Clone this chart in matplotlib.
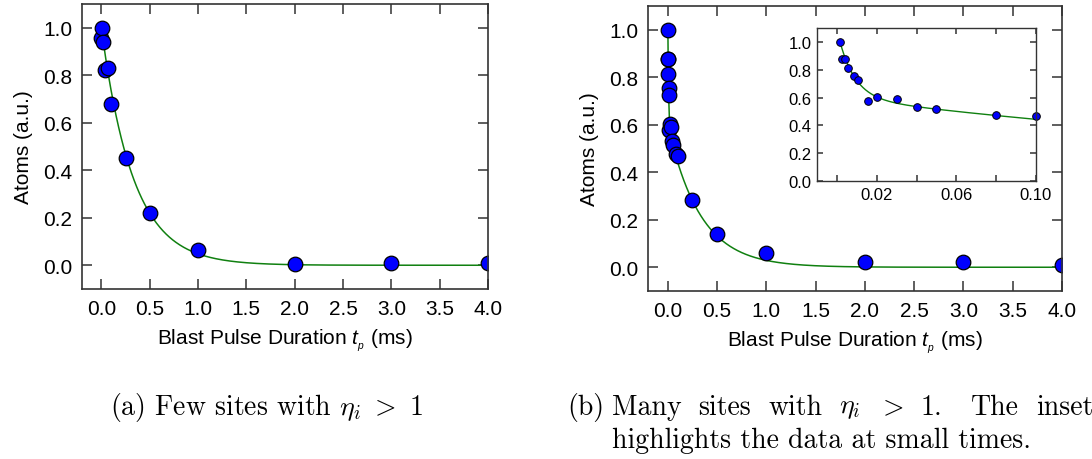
import numpy as np
import matplotlib
matplotlib.use("Agg")
import matplotlib.pyplot as plt

plt.rcParams['font.family'] = ['Liberation Sans', 'DejaVu Sans']
plt.rcParams['mathtext.fontset'] = 'custom'
plt.rcParams['mathtext.rm'] = 'Liberation Sans'
plt.rcParams['mathtext.it'] = 'Liberation Sans:italic'

# (a) few sites: blast pulse duration (ms) vs atoms (a.u.)
t_a = [0.001, 0.008, 0.02, 0.04, 0.07, 0.1, 0.25, 0.5, 1.0, 2.0, 3.0, 4.0]
atoms_a = [0.958, 1.0, 0.938, 0.824, 0.829, 0.68, 0.452, 0.221, 0.065, 0.007, 0.009, 0.011]

# (b) many sites
t_b = [0.0015, 0.0028, 0.004, 0.0056, 0.0086, 0.0106, 0.0154, 0.0202, 0.03, 0.04,
       0.05, 0.08, 0.1, 0.25, 0.5, 1.0, 2.0, 3.0, 4.0]
atoms_b = [1.0, 0.875, 0.875, 0.815, 0.755, 0.724, 0.578, 0.604, 0.59, 0.53,
           0.516, 0.475, 0.468, 0.282, 0.141, 0.058, 0.023, 0.024, 0.008]

# fit parameters
tau_a = 0.33
amp_fast, tau_fast = 0.49, 0.008
amp_slow, tau_slow = 0.6, 0.33

fig = plt.figure(figsize=(10.92, 4.6), dpi=100)
W, H = 1092.0, 460.0


def add_ax(x0, y0, x1, y1):
    return fig.add_axes([x0 / W, 1 - y1 / H, (x1 - x0) / W, (y1 - y0) / H])


def style(ax, size, ticklen, pad):
    for s in ax.spines.values():
        s.set_color('#333333')
        s.set_linewidth(1.2)
    ax.tick_params(direction='in', top=True, right=True, length=ticklen,
                   width=1.1, color='#333333', labelsize=size, pad=pad)


blue = '#0000ff'
green = '#108010'
fmt = matplotlib.ticker.FormatStrFormatter('%.1f')

# left panel
ax1 = add_ax(82, 5, 488, 290)
tt = np.linspace(0.02, 4.0, 600)
ax1.plot(tt, np.exp(-tt / tau_a), color=green, lw=1.1)
ax1.plot(t_a, atoms_a, 'o', ms=10.5, mfc=blue, mec='black', mew=0.9)
ax1.set_xlim(-0.2, 4.0)
ax1.set_ylim(-0.1, 1.1)
ax1.set_xticks(np.arange(0, 4.01, 0.5))
ax1.set_yticks(np.arange(0, 1.01, 0.2))
ax1.xaxis.set_major_formatter(fmt)
ax1.yaxis.set_major_formatter(fmt)
style(ax1, 15, 7.5, 7)
ax1.set_xlabel(r'Blast Pulse Duration $t_{_p}$ (ms)', fontsize=15, labelpad=6)
ax1.set_ylabel('Atoms (a.u.)', fontsize=15, labelpad=7)

# right panel
ax2 = add_ax(648, 7, 1062, 292)
tt = np.linspace(0.0015, 4.0, 4000)
fit_b = amp_fast * np.exp(-tt / tau_fast) + amp_slow * np.exp(-tt / tau_slow)
ax2.plot(tt, fit_b, color=green, lw=1.1)
ax2.plot(t_b, atoms_b, 'o', ms=10.5, mfc=blue, mec='black', mew=0.9)
ax2.set_xlim(-0.2, 4.0)
ax2.set_ylim(-0.1, 1.1)
ax2.set_xticks(np.arange(0, 4.01, 0.5))
ax2.set_yticks(np.arange(0, 1.01, 0.2))
ax2.xaxis.set_major_formatter(fmt)
ax2.yaxis.set_major_formatter(fmt)
style(ax2, 15, 7.5, 7)
ax2.set_xlabel(r'Blast Pulse Duration $t_{_p}$ (ms)', fontsize=15, labelpad=6)
ax2.set_ylabel('Atoms (a.u.)', fontsize=15, labelpad=7)

# inset: small times only
ax3 = add_ax(817, 29, 1036, 182)
tt = np.linspace(0.0015, 0.1, 500)
fit_in = amp_fast * np.exp(-tt / tau_fast) + amp_slow * np.exp(-tt / tau_slow)
ax3.plot(tt, fit_in, color=green, lw=1.0)
ax3.plot(t_b[:13], atoms_b[:13], 'o', ms=5.5, mfc=blue, mec='black', mew=0.7,
         clip_on=False)
ax3.set_xlim(-0.01, 0.1)
ax3.set_ylim(0.0, 1.1)
ax3.set_xticks(np.arange(0, 0.101, 0.02))
ax3.set_xticklabels(['', '0.02', '', '0.06', '', '0.10'])
ax3.set_yticks(np.arange(0, 1.01, 0.2))
ax3.yaxis.set_major_formatter(fmt)
style(ax3, 12, 4, 4)
for s in ax3.spines.values():
    s.set_linewidth(1.0)

# captions
cap = dict(fontsize=20, family='cmr10', math_fontfamily='cm', va='center')
fig.text(110 / W, 1 - 408 / H, r'(a) Few sites with $\eta_i\ >\ 1$', ha='left', **cap)
fig.text(567 / W, 1 - 408 / H, '(b)', ha='left', **cap)
fig.text(612 / W, 1 - 441 / H, 'highlights the data at small times.', ha='left', **cap)

# rest of the first line of caption (b), justified between x0 and x1
words = ['Many', 'sites', 'with', r'$\eta_i$', r'$>$', '1.', 'The', 'inset']
stretch = [1, 1, 1, 1, 1, 1.7, 1]
x0, x1 = 612.0, 1093.0
renderer = fig.canvas.get_renderer()
items = [fig.text(0, 1 - 408 / H, w, ha='left', **cap) for w in words]
widths = [t.get_window_extent(renderer).width for t in items]
gap = (x1 - x0 - sum(widths)) / sum(stretch)
x = x0
for i, (t, w) in enumerate(zip(items, widths)):
    t.set_x(x / W)
    if i < len(stretch):
        x += w + gap * stretch[i]

fig.savefig('out.png', dpi=100)
